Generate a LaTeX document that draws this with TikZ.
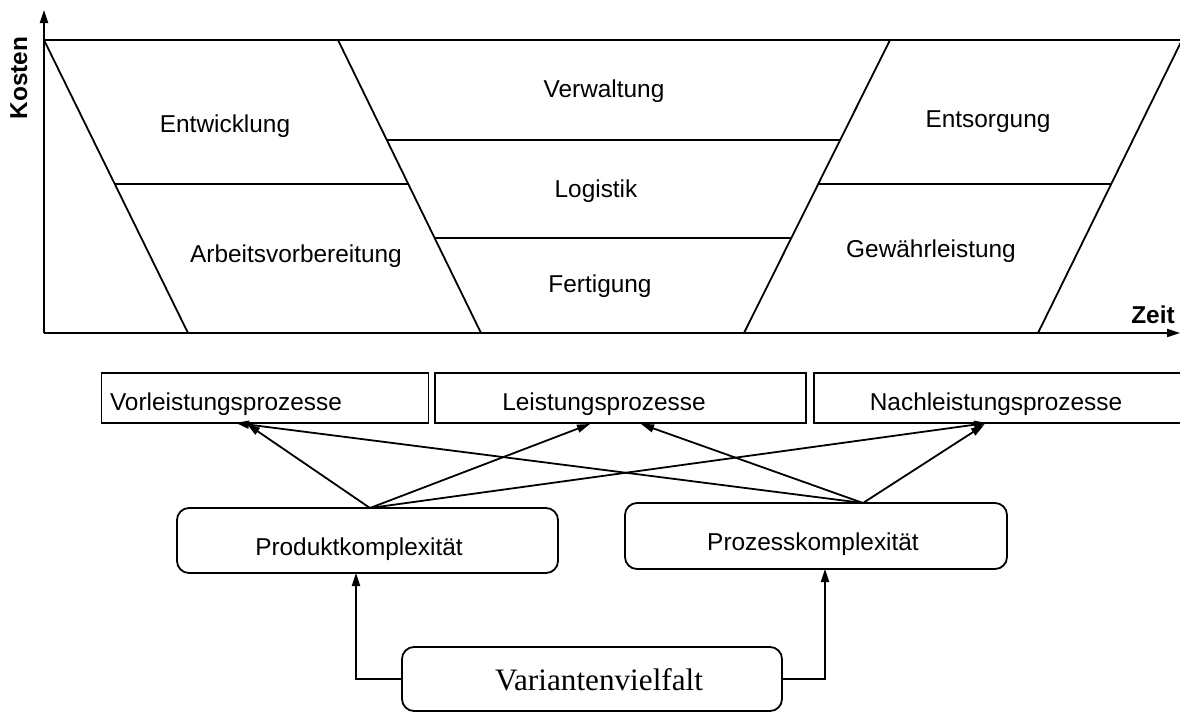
\documentclass[tikz,border=0pt]{standalone}
\usepackage{fontspec}
\setmainfont{Liberation Sans}
\newfontfamily\seriffamilyvv{Liberation Serif}
\usetikzlibrary{arrows.meta}

\begin{document}
\begin{tikzpicture}[x=0.5pt,y=-0.5pt,line width=0.9pt,
  lbl/.style={anchor=base,inner sep=0pt,font=\fontsize{12.2}{14}\selectfont},
  axislbl/.style={lbl,font=\fontsize{12.2}{14}\selectfont\bfseries},
  procbox/.style={draw,rectangle,inner sep=0pt},
  roundbox/.style={draw,rectangle,rounded corners=6pt,inner sep=0pt},
  tip/.style={-{Triangle[length=6.5pt,width=4pt]}},
]
\useasboundingbox (0,0) rectangle (1180,713);

% axes
\coordinate (O) at (44,333);
\coordinate (ytop) at (44,10);
\coordinate (xend) at (1180,333);
\draw[tip] (O) -- (ytop);
\draw[tip] (O) -- (xend);

% cost bands
\coordinate (t0) at (44,40);
\coordinate (t1) at (338,40);
\coordinate (t2) at (890,40);
\coordinate (t3) at (1182,40);
\coordinate (b0) at (188,333);
\coordinate (b1) at (481,333);
\coordinate (b2) at (744,333);
\coordinate (b3) at (1038,333);
\draw (t0) -- (t3);
\draw (t0) -- (b0);
\draw (t1) -- (b1);
\draw (t2) -- (b2);
\draw (t3) -- (b3);
\draw (115,184) -- (409,184);
\draw (387,140) -- (840,140);
\draw (435,238) -- (791,238);
\draw (819,184) -- (1112,184);

% band labels
\node[lbl] (entw) at (225,132) {Entwicklung};
\node[lbl] (verw) at (604,97) {Verwaltung};
\node[lbl] (ents) at (988,127) {Entsorgung};
\node[lbl] (logi) at (596,197) {Logistik};
\node[lbl] (arbv) at (296,262) {Arbeitsvorbereitung};
\node[lbl] (gewl) at (931,257) {Gewährleistung};
\node[lbl] (fert) at (600,292) {Fertigung};
\node[axislbl] (zeit) at (1153,323) {Zeit};
\node[axislbl,rotate=90] (kost) at (27,78) {Kosten};

% process boxes
\node[procbox,minimum width=163.5pt,minimum height=25pt] (vor) at (265,398) {};
\node[procbox,minimum width=185.5pt,minimum height=25pt] (lei) at (620.5,398) {};
\node[procbox,minimum width=193pt,minimum height=25pt] (nach) at (1007,398) {};
\node[lbl] (vorT) at (226,410) {Vorleistungsprozesse};
\node[lbl] (leiT) at (604,410) {Leistungsprozesse};
\node[lbl] (nachT) at (996,410) {Nachleistungsprozesse};

% complexity drivers
\node[roundbox,minimum width=190.5pt,minimum height=32.5pt] (pk) at (367.5,540.5) {};
\node[roundbox,minimum width=191pt,minimum height=33pt] (zk) at (816,536) {};
\node[roundbox,minimum width=190pt,minimum height=32pt] (vv) at (592,679) {};
\node[lbl] (pkT) at (359,555) {Produktkomplexität};
\node[lbl] (zkT) at (813,550) {Prozesskomplexität};
\node[lbl,font=\seriffamilyvv\fontsize{15.6}{18}\selectfont] (vvT) at (599,690) {Variantenvielfalt};

% connector end points
\coordinate (pk-out) at (370,508);
\coordinate (zk-out) at (863,503);
\coordinate (vor-p) at (247,424);
\coordinate (vor-z) at (236,423);
\coordinate (lei-p) at (590,424);
\coordinate (lei-z) at (641,424);
\coordinate (nach-p) at (987,423);
\coordinate (nach-z) at (984,425);
\coordinate (pk-in) at (356,573);
\coordinate (zk-in) at (825,569);

% influence arrows
\draw[tip] (pk-out) -- (vor-p);
\draw[tip] (pk-out) -- (lei-p);
\draw[tip] (pk-out) -- (nach-p);
\draw[tip] (zk-out) -- (vor-z);
\draw[tip] (zk-out) -- (lei-z);
\draw[tip] (zk-out) -- (nach-z);
\draw[tip] (vv.west) -| (pk-in);
\draw[tip] (vv.east) -| (zk-in);
\end{tikzpicture}
\end{document}
